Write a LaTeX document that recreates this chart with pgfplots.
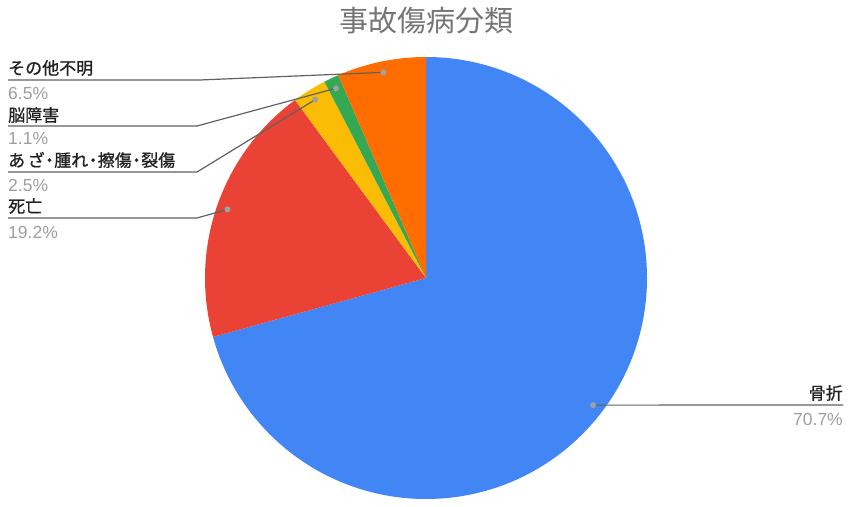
\documentclass[border=0pt]{standalone}
\usepackage{pgfplots}
\pgfplotsset{compat=1.18}
\usepackage{pgfplotstable}
\usepackage{fontspec}
\setmainfont{Liberation Sans}
\newfontfamily\jp{Noto Sans CJK JP}
\newfontfamily\jpb[FakeBold=0.8]{Noto Sans CJK JP}
\newcommand\nd{\kern-0.22em・\kern-0.22em}

\definecolor{cblue}{HTML}{4285F4}
\definecolor{cred}{HTML}{EA4335}
\definecolor{cyellow}{HTML}{FBBC04}
\definecolor{cgreen}{HTML}{34A853}
\definecolor{corange}{HTML}{FF6D01}
\definecolor{titlegray}{HTML}{757575}
\definecolor{pctgray}{HTML}{9E9E9E}
\definecolor{linegray}{HTML}{616161}
\definecolor{dotgray}{HTML}{A0A0A0}

% share of each category, clockwise from 12 o'clock
\pgfplotstableread{
value
70.7
19.2
2.5
1.1
6.5
}\piedata

\begin{document}
\begin{tikzpicture}
\def\cx{426}\def\cy{228}\def\R{221}\def\rd{210}
\pgfmathsetmacro\aA{90}
\pgfplotstablegetelem{0}{value}\of\piedata \pgfmathsetmacro\aB{\aA-3.6*\pgfplotsretval}
\pgfplotstablegetelem{1}{value}\of\piedata \pgfmathsetmacro\aC{\aB-3.6*\pgfplotsretval}
\pgfplotstablegetelem{2}{value}\of\piedata \pgfmathsetmacro\aD{\aC-3.6*\pgfplotsretval}
\pgfplotstablegetelem{3}{value}\of\piedata \pgfmathsetmacro\aE{\aD-3.6*\pgfplotsretval}
\pgfplotstablegetelem{4}{value}\of\piedata \pgfmathsetmacro\aF{\aE-3.6*\pgfplotsretval}
\pgfmathsetmacro\mA{(\aA+\aB)/2}
\pgfmathsetmacro\mB{(\aB+\aC)/2}
\pgfmathsetmacro\mC{(\aC+\aD)/2}
\pgfmathsetmacro\mD{(\aD+\aE)/2}
\pgfmathsetmacro\mE{(\aE+\aF)/2}
\begin{axis}[name=ax, scale only axis, width=850pt, height=506pt,
  xmin=0, xmax=850, ymin=0, ymax=506, hide axis, clip=false]
% slices
\fill[cblue]   (axis cs:\cx,\cy) -- ++(\aA:\R pt) arc[start angle=\aA, end angle=\aB, radius=\R pt] -- cycle;
\fill[cred]    (axis cs:\cx,\cy) -- ++(\aB:\R pt) arc[start angle=\aB, end angle=\aC, radius=\R pt] -- cycle;
\fill[cyellow] (axis cs:\cx,\cy) -- ++(\aC:\R pt) arc[start angle=\aC, end angle=\aD, radius=\R pt] -- cycle;
\fill[cgreen]  (axis cs:\cx,\cy) -- ++(\aD:\R pt) arc[start angle=\aD, end angle=\aE, radius=\R pt] -- cycle;
\fill[corange] (axis cs:\cx,\cy) -- ++(\aE:\R pt) arc[start angle=\aE, end angle=\aF, radius=\R pt] -- cycle;
% label anchor points
\path (axis cs:\cx,\cy) ++(\mA:\rd pt) coordinate (dA);
\path (axis cs:\cx,\cy) ++(\mB:\rd pt) coordinate (dB);
\path (axis cs:\cx,\cy) ++(\mC:\rd pt) coordinate (dC);
\path (axis cs:\cx,\cy) ++(\mD:\rd pt) coordinate (dD);
\path (axis cs:\cx,\cy) ++(\mE:\rd pt) coordinate (dE);
% leader lines
\draw[linegray, line width=1.2pt] (axis cs:8,426) -- (axis cs:200,426) -- (dE);
\draw[linegray, line width=1.2pt] (axis cs:8,380) -- (axis cs:197,380) -- (dD);
\draw[linegray, line width=1.2pt] (axis cs:8,334) -- (axis cs:197,334) -- (dC);
\draw[linegray, line width=1.2pt] (axis cs:8,288) -- (axis cs:197,288) -- (dB);
\draw[linegray, line width=1.2pt] (dA) -- (axis cs:843,101);
\fill[dotgray] (dA) circle[radius=3pt];
\fill[dotgray] (dB) circle[radius=3pt];
\fill[dotgray] (dC) circle[radius=3pt];
\fill[dotgray] (dD) circle[radius=3pt];
\fill[dotgray] (dE) circle[radius=3pt];
% title
\node[titlegray, font=\jp\fontsize{29}{33}\selectfont, inner sep=0pt] at (axis cs:426,485) {事故傷病分類};
% labels
\tikzset{lab/.style={inner sep=0pt, text=black!87, font=\jpb\fontsize{17}{20}\selectfont},
         pct/.style={inner sep=0pt, text=pctgray, font=\fontsize{17.5}{20}\selectfont}}
\node[lab, anchor=west] at (axis cs:8,438) {その他不明};
\node[pct, anchor=west] at (axis cs:8,413) {6.5\%};
\node[lab, anchor=west] at (axis cs:8,391) {脳障害};
\node[pct, anchor=west] at (axis cs:8,368) {1.1\%};
\node[lab, anchor=west] at (axis cs:8,346) {あ\kern0.15emざ\nd 腫れ\nd 擦傷\nd 裂傷};
\node[pct, anchor=west] at (axis cs:8,321) {2.5\%};
\node[lab, anchor=west] at (axis cs:8,300) {死亡};
\node[pct, anchor=west] at (axis cs:8,274) {19.2\%};
\node[lab, anchor=east] at (axis cs:843,113) {骨折};
\node[pct, anchor=east] at (axis cs:843,87) {70.7\%};
\end{axis}
\pgfresetboundingbox
\path (ax.south west) rectangle (ax.north east);
\end{tikzpicture}
\end{document}
